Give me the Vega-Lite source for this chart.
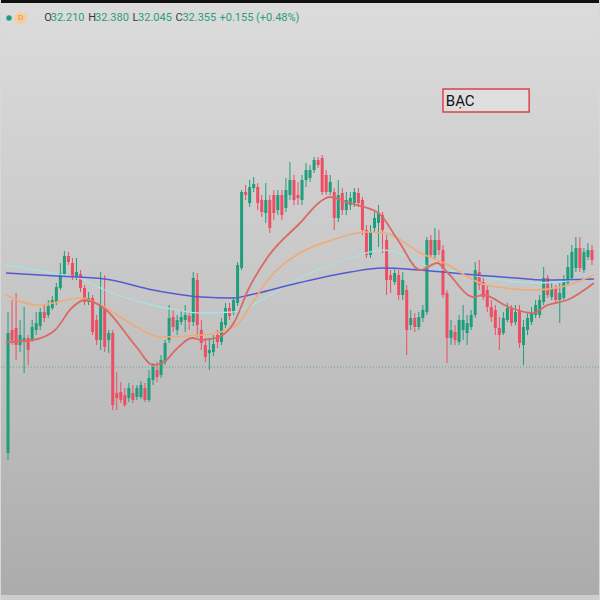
{
  "$schema": "https://vega.github.io/schema/vega-lite/v6.json",
  "autosize": {"type": "fit", "contains": "padding"},
  "width": 600,
  "height": 600,
  "padding": 0,
  "background": "#d8d8d8",
  "config": {"view": {"stroke": null}, "axis": {"disable": true}, "legend": {"disable": true}},
  "resolve": {"scale": {"color": "independent", "size": "independent", "strokeWidth": "independent"}},
  "datasets": {
    "candles": [
      {"t":0,"o":30.47,"h":31.88,"l":30.40,"c":31.67},
      {"t":1,"o":31.70,"h":32.00,"l":31.55,"c":31.60},
      {"t":2,"o":31.72,"h":32.07,"l":31.40,"c":31.55},
      {"t":3,"o":31.55,"h":31.80,"l":31.48,"c":31.65},
      {"t":4,"o":31.60,"h":31.93,"l":31.27,"c":31.62},
      {"t":5,"o":31.62,"h":31.65,"l":31.35,"c":31.50},
      {"t":6,"o":31.60,"h":31.80,"l":31.58,"c":31.73},
      {"t":7,"o":31.70,"h":31.88,"l":31.65,"c":31.77},
      {"t":8,"o":31.74,"h":31.92,"l":31.70,"c":31.88},
      {"t":9,"o":31.88,"h":31.95,"l":31.78,"c":31.82},
      {"t":10,"o":31.85,"h":32.00,"l":31.82,"c":31.94},
      {"t":11,"o":31.92,"h":32.04,"l":31.90,"c":32.00},
      {"t":12,"o":31.98,"h":32.17,"l":31.95,"c":32.13},
      {"t":13,"o":32.12,"h":32.37,"l":32.10,"c":32.27},
      {"t":14,"o":32.26,"h":32.49,"l":32.24,"c":32.44},
      {"t":15,"o":32.44,"h":32.48,"l":32.35,"c":32.38},
      {"t":16,"o":32.37,"h":32.42,"l":32.20,"c":32.23},
      {"t":17,"o":32.23,"h":32.42,"l":32.20,"c":32.28},
      {"t":18,"o":32.26,"h":32.30,"l":32.08,"c":32.12},
      {"t":19,"o":32.12,"h":32.15,"l":31.95,"c":31.98},
      {"t":20,"o":31.98,"h":32.08,"l":31.95,"c":32.02},
      {"t":21,"o":32.02,"h":32.05,"l":31.65,"c":31.68},
      {"t":22,"o":31.80,"h":31.85,"l":31.55,"c":31.60},
      {"t":23,"o":31.60,"h":32.28,"l":31.50,"c":31.95},
      {"t":24,"o":31.93,"h":32.25,"l":31.48,"c":31.53},
      {"t":25,"o":31.60,"h":31.70,"l":31.47,"c":31.67},
      {"t":26,"o":31.67,"h":31.70,"l":30.90,"c":30.95},
      {"t":27,"o":31.07,"h":31.28,"l":30.90,"c":31.02},
      {"t":28,"o":31.08,"h":31.18,"l":30.97,"c":31.00},
      {"t":29,"o":31.05,"h":31.12,"l":30.93,"c":30.95},
      {"t":30,"o":31.02,"h":31.17,"l":30.98,"c":31.12},
      {"t":31,"o":31.07,"h":31.15,"l":30.97,"c":31.00},
      {"t":32,"o":31.03,"h":31.15,"l":31.00,"c":31.12},
      {"t":33,"o":31.03,"h":31.19,"l":31.01,"c":31.15},
      {"t":34,"o":31.12,"h":31.17,"l":30.98,"c":31.00},
      {"t":35,"o":31.00,"h":31.30,"l":30.98,"c":31.22},
      {"t":36,"o":31.20,"h":31.37,"l":31.15,"c":31.33},
      {"t":37,"o":31.30,"h":31.38,"l":31.18,"c":31.23},
      {"t":38,"o":31.25,"h":31.45,"l":31.22,"c":31.40},
      {"t":39,"o":31.38,"h":31.60,"l":31.35,"c":31.57},
      {"t":40,"o":31.60,"h":31.95,"l":31.57,"c":31.82},
      {"t":41,"o":31.83,"h":31.90,"l":31.68,"c":31.73},
      {"t":42,"o":31.70,"h":31.85,"l":31.65,"c":31.80},
      {"t":43,"o":31.78,"h":31.90,"l":31.75,"c":31.83},
      {"t":44,"o":31.80,"h":31.95,"l":31.68,"c":31.85},
      {"t":45,"o":31.84,"h":31.88,"l":31.70,"c":31.78},
      {"t":46,"o":31.78,"h":32.28,"l":31.74,"c":32.22},
      {"t":47,"o":32.20,"h":32.27,"l":31.63,"c":31.75},
      {"t":48,"o":31.70,"h":31.80,"l":31.50,"c":31.57},
      {"t":49,"o":31.55,"h":31.62,"l":31.38,"c":31.43},
      {"t":50,"o":31.47,"h":31.62,"l":31.30,"c":31.50},
      {"t":51,"o":31.48,"h":31.65,"l":31.44,"c":31.56},
      {"t":52,"o":31.65,"h":31.70,"l":31.52,"c":31.58},
      {"t":53,"o":31.58,"h":31.82,"l":31.55,"c":31.78},
      {"t":54,"o":31.75,"h":31.97,"l":31.72,"c":31.92},
      {"t":55,"o":31.92,"h":31.97,"l":31.80,"c":31.84},
      {"t":56,"o":31.87,"h":32.03,"l":31.85,"c":32.00},
      {"t":57,"o":31.97,"h":32.38,"l":31.94,"c":32.35},
      {"t":58,"o":32.32,"h":33.10,"l":32.30,"c":33.08},
      {"t":59,"o":33.08,"h":33.15,"l":33.00,"c":33.05},
      {"t":60,"o":32.97,"h":33.20,"l":32.93,"c":33.13},
      {"t":61,"o":33.12,"h":33.23,"l":33.08,"c":33.16},
      {"t":62,"o":33.13,"h":33.17,"l":32.90,"c":32.97},
      {"t":63,"o":33.00,"h":33.05,"l":32.83,"c":32.88},
      {"t":64,"o":32.87,"h":33.17,"l":32.77,"c":33.00},
      {"t":65,"o":33.00,"h":33.05,"l":32.67,"c":32.72},
      {"t":66,"o":33.05,"h":33.10,"l":32.80,"c":32.87},
      {"t":67,"o":32.90,"h":33.10,"l":32.85,"c":33.05},
      {"t":68,"o":33.05,"h":33.10,"l":32.80,"c":32.85},
      {"t":69,"o":32.92,"h":33.22,"l":32.88,"c":33.10},
      {"t":70,"o":33.05,"h":33.38,"l":33.00,"c":33.20},
      {"t":71,"o":33.20,"h":33.25,"l":32.95,"c":33.00},
      {"t":72,"o":33.05,"h":33.18,"l":32.95,"c":33.02},
      {"t":73,"o":33.00,"h":33.25,"l":32.95,"c":33.20},
      {"t":74,"o":33.20,"h":33.37,"l":33.13,"c":33.30},
      {"t":75,"o":33.22,"h":33.35,"l":33.18,"c":33.30},
      {"t":76,"o":33.30,"h":33.43,"l":33.27,"c":33.40},
      {"t":77,"o":33.40,"h":33.43,"l":33.32,"c":33.35},
      {"t":78,"o":33.42,"h":33.45,"l":33.05,"c":33.08},
      {"t":79,"o":33.25,"h":33.30,"l":33.05,"c":33.08},
      {"t":80,"o":33.08,"h":33.25,"l":33.05,"c":33.18},
      {"t":81,"o":33.08,"h":33.12,"l":32.70,"c":32.82},
      {"t":82,"o":32.82,"h":33.20,"l":32.78,"c":33.05},
      {"t":83,"o":33.07,"h":33.12,"l":32.85,"c":32.90},
      {"t":84,"o":32.90,"h":33.08,"l":32.85,"c":33.00},
      {"t":85,"o":32.95,"h":33.08,"l":32.90,"c":33.02},
      {"t":86,"o":32.97,"h":33.12,"l":32.93,"c":33.08},
      {"t":87,"o":33.07,"h":33.12,"l":32.93,"c":32.97},
      {"t":88,"o":33.00,"h":33.03,"l":32.65,"c":32.70},
      {"t":89,"o":32.70,"h":32.75,"l":32.42,"c":32.45},
      {"t":90,"o":32.45,"h":32.75,"l":32.42,"c":32.68},
      {"t":91,"o":32.72,"h":32.88,"l":32.68,"c":32.82},
      {"t":92,"o":32.77,"h":32.95,"l":32.53,"c":32.87},
      {"t":93,"o":32.85,"h":32.88,"l":32.47,"c":32.70},
      {"t":94,"o":32.60,"h":32.65,"l":32.05,"c":32.20},
      {"t":95,"o":32.25,"h":32.30,"l":32.07,"c":32.20},
      {"t":96,"o":32.18,"h":32.32,"l":32.15,"c":32.27},
      {"t":97,"o":32.25,"h":32.30,"l":32.00,"c":32.05},
      {"t":98,"o":32.05,"h":32.28,"l":32.00,"c":32.20},
      {"t":99,"o":32.10,"h":32.15,"l":31.45,"c":31.70},
      {"t":100,"o":31.75,"h":31.90,"l":31.70,"c":31.82},
      {"t":101,"o":31.82,"h":31.87,"l":31.68,"c":31.73},
      {"t":102,"o":31.73,"h":31.88,"l":31.70,"c":31.83},
      {"t":103,"o":31.82,"h":31.95,"l":31.78,"c":31.90},
      {"t":104,"o":31.88,"h":32.63,"l":31.85,"c":32.60},
      {"t":105,"o":32.60,"h":32.65,"l":32.42,"c":32.45},
      {"t":106,"o":32.45,"h":32.72,"l":32.42,"c":32.60},
      {"t":107,"o":32.60,"h":32.70,"l":32.45,"c":32.50},
      {"t":108,"o":32.50,"h":32.55,"l":32.02,"c":32.05},
      {"t":109,"o":32.07,"h":32.10,"l":31.37,"c":31.62},
      {"t":110,"o":31.62,"h":31.80,"l":31.55,"c":31.70},
      {"t":111,"o":31.68,"h":31.75,"l":31.55,"c":31.60},
      {"t":112,"o":31.58,"h":31.85,"l":31.55,"c":31.80},
      {"t":113,"o":31.70,"h":31.95,"l":31.60,"c":31.80},
      {"t":114,"o":31.67,"h":31.85,"l":31.55,"c":31.77},
      {"t":115,"o":31.73,"h":31.90,"l":31.70,"c":31.85},
      {"t":116,"o":31.85,"h":32.38,"l":31.82,"c":32.30},
      {"t":117,"o":32.28,"h":32.40,"l":32.10,"c":32.15},
      {"t":118,"o":32.18,"h":32.25,"l":32.00,"c":32.03},
      {"t":119,"o":32.10,"h":32.15,"l":31.88,"c":31.93},
      {"t":120,"o":31.93,"h":32.00,"l":31.78,"c":31.83},
      {"t":121,"o":31.90,"h":31.95,"l":31.65,"c":31.72},
      {"t":122,"o":31.72,"h":31.83,"l":31.50,"c":31.65},
      {"t":123,"o":31.67,"h":31.88,"l":31.65,"c":31.82},
      {"t":124,"o":31.80,"h":31.97,"l":31.78,"c":31.92},
      {"t":125,"o":31.92,"h":31.95,"l":31.74,"c":31.77},
      {"t":126,"o":31.78,"h":31.95,"l":31.75,"c":31.88},
      {"t":127,"o":31.90,"h":31.95,"l":31.52,"c":31.57},
      {"t":128,"o":31.55,"h":31.80,"l":31.35,"c":31.73},
      {"t":129,"o":31.70,"h":31.87,"l":31.65,"c":31.82},
      {"t":130,"o":31.78,"h":31.93,"l":31.75,"c":31.88},
      {"t":131,"o":31.85,"h":32.00,"l":31.82,"c":31.95},
      {"t":132,"o":31.85,"h":32.05,"l":31.82,"c":32.00},
      {"t":133,"o":31.98,"h":32.33,"l":31.95,"c":32.22},
      {"t":134,"o":32.22,"h":32.25,"l":32.02,"c":32.05},
      {"t":135,"o":32.03,"h":32.17,"l":32.00,"c":32.12},
      {"t":136,"o":32.12,"h":32.15,"l":31.97,"c":32.00},
      {"t":137,"o":32.00,"h":32.17,"l":31.77,"c":32.07},
      {"t":138,"o":32.02,"h":32.25,"l":32.00,"c":32.20},
      {"t":139,"o":32.17,"h":32.45,"l":32.14,"c":32.33},
      {"t":140,"o":32.22,"h":32.55,"l":32.20,"c":32.48},
      {"t":141,"o":32.32,"h":32.63,"l":32.28,"c":32.52},
      {"t":142,"o":32.52,"h":32.63,"l":32.28,"c":32.32},
      {"t":143,"o":32.30,"h":32.52,"l":32.27,"c":32.48},
      {"t":144,"o":32.43,"h":32.57,"l":32.40,"c":32.50},
      {"t":145,"o":32.50,"h":32.55,"l":32.35,"c":32.40}
    ],
    "ma": [
      {"t":-0.5,"p":32.35,"s":"ma100"},{"t":9.5,"p":32.28,"s":"ma100"},{"t":19,"p":32.20,"s":"ma100"},{"t":24,"p":32.10,"s":"ma100"},{"t":36,"p":31.95,"s":"ma100"},{"t":48,"p":31.87,"s":"ma100"},{"t":56,"p":31.88,"s":"ma100"},{"t":63,"p":32.00,"s":"ma100"},{"t":72.5,"p":32.22,"s":"ma100"},{"t":85,"p":32.42,"s":"ma100"},{"t":93,"p":32.50,"s":"ma100"},{"t":99,"p":32.44,"s":"ma100"},{"t":104,"p":32.34,"s":"ma100"},{"t":111.5,"p":32.28,"s":"ma100"},{"t":121,"p":32.21,"s":"ma100"},{"t":131,"p":32.17,"s":"ma100"},{"t":141,"p":32.20,"s":"ma100"},{"t":145.5,"p":32.23,"s":"ma100"},
      {"t":-0.5,"p":32.27,"s":"ma200"},{"t":12,"p":32.24,"s":"ma200"},{"t":24,"p":32.21,"s":"ma200"},{"t":36,"p":32.10,"s":"ma200"},{"t":48,"p":32.03,"s":"ma200"},{"t":56,"p":32.02,"s":"ma200"},{"t":60,"p":32.05,"s":"ma200"},{"t":72,"p":32.17,"s":"ma200"},{"t":85,"p":32.28,"s":"ma200"},{"t":93,"p":32.32,"s":"ma200"},{"t":102,"p":32.30,"s":"ma200"},{"t":108,"p":32.28,"s":"ma200"},{"t":116,"p":32.25,"s":"ma200"},{"t":126,"p":32.22,"s":"ma200"},{"t":133,"p":32.20,"s":"ma200"},{"t":145.5,"p":32.21,"s":"ma200"},
      {"t":-0.5,"p":32.05,"s":"ma50"},{"t":7.5,"p":31.95,"s":"ma50"},{"t":18.2,"p":32.02,"s":"ma50"},{"t":23.8,"p":31.93,"s":"ma50"},{"t":31.9,"p":31.73,"s":"ma50"},{"t":37.7,"p":31.63,"s":"ma50"},{"t":48.2,"p":31.65,"s":"ma50"},{"t":56.2,"p":31.73,"s":"ma50"},{"t":60.3,"p":31.95,"s":"ma50"},{"t":64.5,"p":32.20,"s":"ma50"},{"t":72.5,"p":32.47,"s":"ma50"},{"t":80.5,"p":32.60,"s":"ma50"},{"t":88.8,"p":32.68,"s":"ma50"},{"t":93.7,"p":32.67,"s":"ma50"},{"t":102.4,"p":32.47,"s":"ma50"},{"t":108.3,"p":32.37,"s":"ma50"},{"t":118.7,"p":32.15,"s":"ma50"},{"t":130.9,"p":32.10,"s":"ma50"},{"t":137.5,"p":32.13,"s":"ma50"},{"t":145.5,"p":32.25,"s":"ma50"},
      {"t":-0.5,"p":31.58,"s":"ma20"},{"t":6.1,"p":31.60,"s":"ma20"},{"t":11.7,"p":31.70,"s":"ma20"},{"t":15.8,"p":31.92,"s":"ma20"},{"t":19,"p":32.00,"s":"ma20"},{"t":23.8,"p":31.92,"s":"ma20"},{"t":31.9,"p":31.53,"s":"ma20"},{"t":36,"p":31.35,"s":"ma20"},{"t":38.4,"p":31.37,"s":"ma20"},{"t":41.6,"p":31.50,"s":"ma20"},{"t":45.7,"p":31.62,"s":"ma20"},{"t":48.2,"p":31.60,"s":"ma20"},{"t":52.3,"p":31.63,"s":"ma20"},{"t":56.2,"p":31.78,"s":"ma20"},{"t":59.6,"p":32.10,"s":"ma20"},{"t":64.5,"p":32.43,"s":"ma20"},{"t":72.5,"p":32.77,"s":"ma20"},{"t":78.1,"p":33.00,"s":"ma20"},{"t":79.8,"p":33.03,"s":"ma20"},{"t":84.7,"p":32.97,"s":"ma20"},{"t":92,"p":32.87,"s":"ma20"},{"t":96.8,"p":32.60,"s":"ma20"},{"t":102.4,"p":32.30,"s":"ma20"},{"t":106.6,"p":32.37,"s":"ma20"},{"t":109,"p":32.28,"s":"ma20"},{"t":115.6,"p":32.03,"s":"ma20"},{"t":118,"p":32.05,"s":"ma20"},{"t":124.3,"p":31.93,"s":"ma20"},{"t":130.2,"p":31.87,"s":"ma20"},{"t":134,"p":31.95,"s":"ma20"},{"t":138.9,"p":32.00,"s":"ma20"},{"t":145.5,"p":32.17,"s":"ma20"}
    ],
    "hdr": [
      {"t":9.0,"p":34.82,"s":"O","k":"lbl"},
      {"t":10.6,"p":34.82,"s":"32.210","k":"val"},
      {"t":19.9,"p":34.82,"s":"H","k":"lbl"},
      {"t":21.6,"p":34.82,"s":"32.380","k":"val"},
      {"t":30.9,"p":34.82,"s":"L","k":"lbl"},
      {"t":32.3,"p":34.82,"s":"32.045","k":"val"},
      {"t":41.6,"p":34.82,"s":"C","k":"lbl"},
      {"t":43.3,"p":34.82,"s":"32.355","k":"val"},
      {"t":52.5,"p":34.82,"s":"+0.155 (+0.48%)","k":"val"}
    ]
  },
  "layer": [
    {
      "data": {"values": [{"a": 1}]},
      "mark": {"type": "rect", "fill": {"gradient": "linear", "x1": 0, "y1": 0, "x2": 0, "y2": 1, "stops": [{"offset": 0, "color": "#dcdcdc"}, {"offset": 0.5, "color": "#c6c6c6"}, {"offset": 1, "color": "#ababab"}]}},
      "encoding": {}
    },
    {
      "data": {"values": [{"y": 35, "y2": 34.97, "k": "top"}, {"y": 29.05, "y2": 29.0, "k": "bottom"}]},
      "mark": {"type": "rect"},
      "encoding": {
        "y": {"field": "y", "type": "quantitative", "scale": {"domain": [29, 35], "nice": false, "zero": false}},
        "y2": {"field": "y2"},
        "color": {"field": "k", "type": "nominal", "scale": {"domain": ["top", "bottom"], "range": ["#111111", "#cdcdcd"]}, "legend": null}
      }
    },
    {
      "data": {"values": [{"p": 31.33}]},
      "mark": {"type": "rule", "color": "#4f9e88", "strokeDash": [1, 2], "strokeWidth": 1, "opacity": 0.8},
      "encoding": {"y": {"field": "p", "type": "quantitative"}}
    },
    {
      "data": {"name": "candles"},
      "mark": {"type": "rule", "strokeWidth": 1},
      "encoding": {
        "x": {"field": "t", "type": "quantitative", "scale": {"domain": [-0.5, 145.5], "nice": false, "zero": false}},
        "y": {"field": "l", "type": "quantitative"},
        "y2": {"field": "h"},
        "color": {"condition": {"test": "datum.c >= datum.o", "value": "#1f9e7c"}, "value": "#ee4d63"}
      }
    },
    {
      "data": {"name": "candles"},
      "mark": {"type": "bar", "width": 3, "orient": "vertical"},
      "encoding": {
        "x": {"field": "t", "type": "quantitative"},
        "y": {"field": "o", "type": "quantitative"},
        "y2": {"field": "c"},
        "color": {"condition": {"test": "datum.c >= datum.o", "value": "#1f9e7c"}, "value": "#ee4d63"}
      }
    },
    {
      "data": {"name": "ma"},
      "mark": {"type": "line", "interpolate": "monotone"},
      "encoding": {
        "x": {"field": "t", "type": "quantitative"},
        "y": {"field": "p", "type": "quantitative"},
        "color": {"field": "s", "type": "nominal", "scale": {"domain": ["ma100", "ma200", "ma50", "ma20"], "range": ["#a6e2e0", "#5858d2", "#f0aa78", "#da6a66"]}, "legend": null},
        "strokeWidth": {"field": "s", "type": "nominal", "scale": {"domain": ["ma100", "ma200", "ma50", "ma20"], "range": [1.3, 1.8, 1, 1.1]}, "legend": null}
      }
    },
    {
      "data": {"values": [{"x": 108.0, "x2": 129.4, "y": 34.11, "y2": 33.88}]},
      "mark": {"type": "rect", "fill": "#dedede", "stroke": "#e0404f", "strokeWidth": 1.5},
      "encoding": {
        "x": {"field": "x", "type": "quantitative"},
        "x2": {"field": "x2"},
        "y": {"field": "y", "type": "quantitative"},
        "y2": {"field": "y2"}
      }
    },
    {
      "data": {"values": [{"x": 108.7, "y": 33.995, "s": "BẠC"}]},
      "mark": {"type": "text", "align": "left", "baseline": "middle", "font": "Roboto", "fontSize": 15, "color": "#111111"},
      "encoding": {
        "x": {"field": "x", "type": "quantitative"},
        "y": {"field": "y", "type": "quantitative"},
        "text": {"field": "s"}
      }
    },
    {
      "data": {"values": [{"x": 0.25, "y": 34.82, "k": "dot"}, {"x": 3.15, "y": 34.82, "k": "d"}]},
      "mark": {"type": "point", "filled": true, "opacity": 1},
      "encoding": {
        "x": {"field": "x", "type": "quantitative"},
        "y": {"field": "y", "type": "quantitative"},
        "color": {"field": "k", "type": "nominal", "scale": {"domain": ["dot", "d"], "range": ["#22a07e", "#f6cf9c"]}, "legend": null},
        "size": {"field": "k", "type": "nominal", "scale": {"domain": ["dot", "d"], "range": [30, 150]}, "legend": null}
      }
    },
    {
      "data": {"values": [{"x": 3.15, "y": 34.82, "s": "D"}]},
      "mark": {"type": "text", "align": "center", "baseline": "middle", "font": "Roboto", "fontSize": 8, "color": "#e8902c"},
      "encoding": {
        "x": {"field": "x", "type": "quantitative"},
        "y": {"field": "y", "type": "quantitative"},
        "text": {"field": "s"}
      }
    },
    {
      "data": {"name": "hdr"},
      "mark": {"type": "text", "align": "left", "baseline": "middle", "font": "Roboto", "fontSize": 11},
      "encoding": {
        "x": {"field": "t", "type": "quantitative"},
        "y": {"field": "p", "type": "quantitative"},
        "text": {"field": "s"},
        "color": {"field": "k", "type": "nominal", "scale": {"domain": ["lbl", "val"], "range": ["#3a3a3a", "#2a9c84"]}, "legend": null}
      }
    }
  ]
}
